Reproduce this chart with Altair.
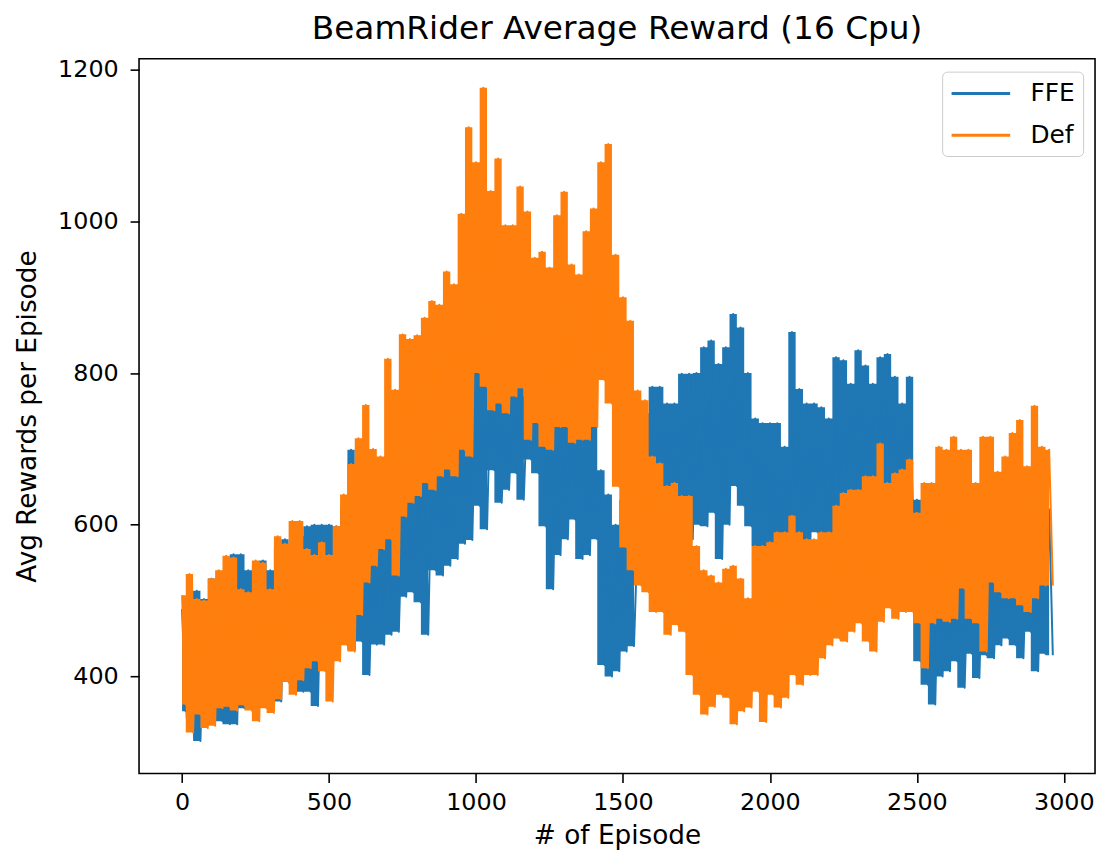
import altair as alt
import pandas as pd

# Episode spacing of the read-off samples (upper / lower excursion per bin)
STEP = 25

series_names = ["FFE", "Def"]
series_colors = ["#1f77b4", "#ff7f0e"]
x_ticks = [0, 500, 1000, 1500, 2000, 2500, 3000]
y_ticks = [400, 600, 800, 1000, 1200]

ffe_hi = [
    489, 500, 513, 502, 529, 520, 530, 561, 561, 540,
    545, 553, 540, 570, 581, 575, 585, 598, 600, 600,
    600, 598, 625, 699, 600, 610, 590, 600, 620, 625,
    630, 638, 690, 690, 692, 699, 747, 720, 760, 803,
    803, 800, 790, 780, 773, 773, 799, 769, 769, 760,
    734, 755, 755, 764, 764, 760, 729, 672, 640, 600,
    633, 600, 590, 747, 782, 782, 760, 760, 799, 799,
    800, 834, 843, 812, 834, 878, 860, 800, 740, 734,
    734, 734, 703, 854, 779, 760, 760, 755, 740, 821,
    817, 786, 830, 810, 786, 821, 825, 795, 760, 795,
    633, 633, 600, 580, 560, 560, 570, 560, 580, 570,
    560, 580, 570, 590, 600, 590, 610, 600, 620,
]
ffe_lo = [
    354, 345, 315, 341, 350, 341, 337, 337, 358, 372,
    372, 378, 367, 367, 393, 390, 380, 380, 361, 410,
    415, 440, 450, 435, 446, 402, 442, 442, 455, 459,
    505, 511, 498, 455, 540, 533, 546, 555, 575, 580,
    625, 594, 672, 629, 646, 668, 633, 686, 668, 598,
    515, 560, 581, 607, 555, 560, 581, 415, 400, 407,
    433, 440, 524, 530, 640, 630, 633, 616, 633, 581,
    600, 598, 616, 555, 600, 651, 625, 598, 572, 529,
    533, 542, 546, 568, 555, 577, 590, 568, 580, 577,
    610, 612, 612, 633, 612, 633, 616, 633, 642, 598,
    420, 389, 363, 400, 407, 420, 385, 430, 398, 428,
    424, 441, 450, 441, 424, 459, 407, 430, 428,
]
def_hi = [
    507, 535, 502, 500, 529, 540, 559, 557, 515, 511,
    553, 550, 515, 585, 575, 605, 605, 568, 560, 577,
    560, 598, 640, 680, 714, 758, 700, 690, 819, 778,
    851, 845, 850, 873, 895, 890, 934, 917, 1010, 1124,
    1078, 1176, 1040, 1083, 995, 995, 1046, 1013, 952, 960,
    939, 1008, 1039, 943, 930, 987, 1017, 1078, 1102, 956,
    900, 869, 777, 764, 690, 681, 651, 655, 638, 638,
    572, 540, 533, 524, 542, 546, 529, 503, 572, 572,
    577, 590, 590, 612, 590, 581, 581, 590, 590, 625,
    642, 646, 646, 664, 664, 707, 655, 668, 673, 686,
    616, 655, 655, 703, 699, 716, 699, 699, 655, 716,
    716, 670, 690, 721, 738, 677, 757, 703, 699,
]
def_lo = [
    363, 326, 350, 332, 335, 358, 360, 355, 362, 355,
    341, 358, 352, 370, 393, 376, 395, 411, 420, 407,
    367, 420, 441, 433, 481, 524, 546, 568, 581, 533,
    611, 629, 638, 655, 646, 664, 673, 664, 699, 690,
    800, 782, 751, 760, 747, 769, 780, 712, 734, 703,
    699, 729, 729, 708, 712, 712, 729, 791, 760, 650,
    570, 540, 520, 511, 485, 485, 455, 468, 459, 402,
    376, 350, 360, 376, 372, 337, 354, 359, 380, 340,
    376, 359, 372, 402, 389, 402, 402, 424, 441, 450,
    446, 459, 470, 446, 433, 472, 490, 476, 485, 485,
    470, 411, 470, 476, 472, 476, 516, 476, 470, 433,
    524, 511, 503, 503, 494, 485, 503, 520, 520,
]


def zigzag(name, hi, lo):
    rows = []
    for i, (h, l) in enumerate(zip(hi, lo)):
        rows.append({"series": name, "episode": i * STEP, "reward": h})
        rows.append({"series": name, "episode": i * STEP + STEP / 2, "reward": l})
    return rows


def band(name, hi, lo):
    return [
        {"series": name, "episode": i * STEP, "lo": l, "hi": h}
        for i, (h, l) in enumerate(zip(hi, lo))
    ]


line_df = pd.DataFrame(zigzag("FFE", ffe_hi, ffe_lo) + zigzag("Def", def_hi, def_lo))
band_df = pd.DataFrame(band("FFE", ffe_hi, ffe_lo) + band("Def", def_hi, def_lo))

FONT = "DejaVu Sans"

xscale = alt.Scale(domain=[-146.4, 3106.1], nice=False, zero=False)
yscale = alt.Scale(domain=[272.1, 1214.4], nice=False, zero=False)

x_axis = alt.Axis(values=x_ticks, format="d", title="# of Episode", labelPadding=8, titlePadding=9)
y_axis = alt.Axis(values=y_ticks, format="d", title="Avg Rewards per Episode", labelPadding=12, titlePadding=16)

color = alt.Color(
    "series:N",
    scale=alt.Scale(domain=series_names, range=series_colors),
    legend=alt.Legend(
        title=None,
        orient="none",
        legendX=809,
        legendY=13,
        symbolType="M-1,0H3.72",
        symbolSize=625,
        symbolStrokeWidth=3,
        labelFont=FONT,
        labelFontSize=25,
        labelColor="black",
        labelOffset=53,
        padding=8,
        rowPadding=15,
        fillColor="white",
        strokeColor="#cccccc",
        cornerRadius=5,
    ),
)


def layers_for(name, col):
    area = (
        alt.Chart(band_df)
        .transform_filter(alt.datum.series == name)
        .mark_area(interpolate="step", color=col, opacity=1)
        .encode(
            x=alt.X("episode:Q", scale=xscale, axis=x_axis),
            y=alt.Y("lo:Q", scale=yscale, axis=y_axis),
            y2="hi:Q",
        )
    )
    line = (
        alt.Chart(line_df)
        .transform_filter(alt.datum.series == name)
        .mark_line(strokeWidth=2, strokeJoin="round")
        .encode(
            x=alt.X("episode:Q", scale=xscale, axis=x_axis),
            y=alt.Y("reward:Q", scale=yscale, axis=y_axis),
            color=color,
        )
    )
    return [area, line]


chart = (
    alt.layer(*layers_for("FFE", series_colors[0]), *layers_for("Def", series_colors[1]))
    .properties(
        width=963,
        height=720,
        title=alt.TitleParams(
            "BeamRider Average Reward (16 Cpu)",
            font=FONT,
            fontSize=33,
            fontWeight="normal",
            color="black",
            anchor="middle",
            offset=12,
        ),
        autosize=alt.AutoSizeParams(type="none"),
        padding={"left": 132, "top": 48, "right": 4, "bottom": 77},
    )
    .configure_view(stroke="black", strokeWidth=1.6)
    .configure_axis(
        labelFont=FONT,
        labelFontSize=24,
        labelColor="black",
        titleFont=FONT,
        titleFontSize=26.5,
        titleFontWeight="normal",
        titleColor="black",
        tickColor="black",
        tickSize=9,
        tickWidth=1.6,
        grid=False,
        domain=False,
    )
)

chart.save("out.html", embed_options={"renderer": "svg", "actions": False})
